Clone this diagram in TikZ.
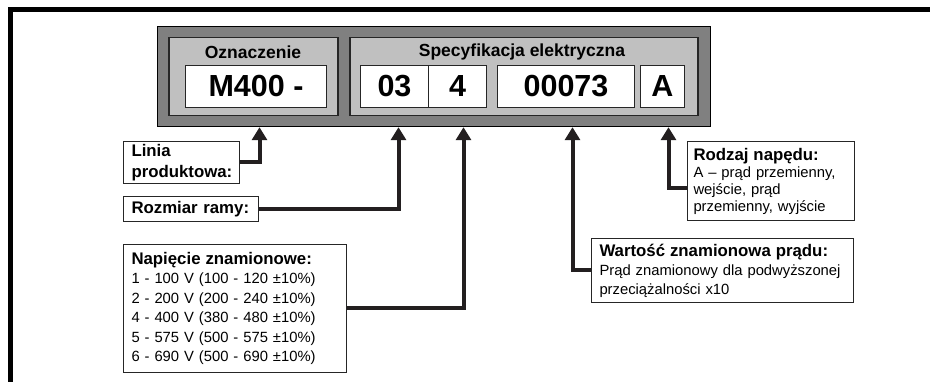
\documentclass[tikz,border=0pt]{standalone}
\usepackage{fontspec}
\setmainfont{Liberation Sans}
\usetikzlibrary{arrows.meta}
\definecolor{panelDark}{HTML}{808080}
\definecolor{panelLight}{HTML}{C0C0C0}
\definecolor{connColor}{HTML}{231F20}
\newcommand{\boxtitle}[1]{{\fontsize{16.8}{19.5}\selectfont\bfseries #1}}
\begin{document}
\begin{tikzpicture}[x=1pt,y=-1pt,
  outerpanel/.style={draw=black, line width=1.2pt, fill=panelDark, anchor=north west, inner sep=0pt},
  innerpanel/.style={draw=black!85, line width=1.5pt, fill=panelLight, anchor=north west, inner sep=0pt},
  codebox/.style={draw=black!85, line width=1pt, fill=white, anchor=north west, inner sep=0pt, minimum height=42pt, font=\fontsize{30.5}{32}\selectfont\bfseries},
  heading/.style={font=\fontsize{17.5}{19}\selectfont\bfseries, inner sep=0pt},
  labelbox/.style={draw=black!85, line width=1pt, fill=white, anchor=north west, align=left, inner xsep=8pt, inner ysep=0pt, font=\fontsize{14.8}{19.5}\selectfont},
  boldlabel/.style={labelbox, font=\fontsize{16.8}{20.5}\selectfont\bfseries},
  conn/.style={draw=connColor, line width=4pt, -{Triangle[width=15pt,length=13pt]}},
]
\useasboundingbox (0,0) rectangle (930,382);
% frame
\draw[line width=5pt, line join=miter] (10,382) -- (10,9.5) -- (930,9.5);
% code panel
\node[outerpanel, minimum width=553pt, minimum height=100pt] (outer) at (157,26) {};
\node[innerpanel, minimum width=169pt, minimum height=78pt] (desig) at (168,37) {};
\node[innerpanel, minimum width=348pt, minimum height=78pt] (spec) at (349,37) {};
\node[heading] (desigT) at (253,52) {Oznaczenie};
\node[heading] (specT) at (522,52) {Specyfikacja elektryczna};
\node[codebox, minimum width=141pt] (cM) at (185,65) {M400 -};
\node[codebox, minimum width=68pt] (c03) at (360,65) {03};
\node[codebox, minimum width=58pt] (c4) at (428,65) {4};
\node[codebox, minimum width=137pt] (c73) at (497,65) {00073};
\node[codebox, minimum width=44pt] (cA) at (640,65) {A};
% label boxes
\node[boldlabel, text width=100pt, minimum height=42pt] (linia) at (123,141) {Linia\\produktowa:};
\node[boldlabel, text width=119pt, minimum height=25pt] (rozmiar) at (123,196) {Rozmiar ramy:};
\node[labelbox, text width=207pt, minimum height=128pt] (napiecie) at (123,244)
  {\boxtitle{Napięcie znamionowe:}\\
   1 - 100 V (100 - 120 ±10\%)\\
   2 - 200 V (200 - 240 ±10\%)\\
   4 - 400 V (380 - 480 ±10\%)\\
   5 - 575 V (500 - 575 ±10\%)\\
   6 - 690 V (500 - 690 ±10\%)};
\node[labelbox, inner xsep=6pt, text width=155pt, minimum height=79pt, font=\fontsize{14.8}{17}\selectfont] (rodzaj) at (687,141)
  {\boxtitle{Rodzaj napędu:}\\
   A – prąd przemienny,\\
   wejście, prąd\\
   przemienny, wyjście};
\node[labelbox, text width=246pt, minimum height=64pt, font=\fontsize{14.8}{19}\selectfont] (wartosc) at (591,238)
  {\boxtitle{Wartość znamionowa prądu:}\\
   Prąd znamionowy dla podwyższonej\\
   przeciążalności x10};
% arrow targets on the panel bottom
\path (cM.south |- outer.south) ++(3.5,0) coordinate (t1);
\path (c03.south |- outer.south) ++(4,0) coordinate (t2);
\path (c4.south |- outer.south) ++(6,0) coordinate (t3);
\path (c73.south |- outer.south) ++(6.5,0) coordinate (t4);
\path (cA.south |- outer.south) ++(6,0) coordinate (t5);
% connectors
\draw[conn] (linia.east) -| (t1);
\draw[conn] (rozmiar.east) -| (t2);
\draw[conn] (napiecie.east) -| (t3);
\draw[conn] (wartosc.west) -| (t4);
\draw[conn] ([yshift=-7pt]rodzaj.west) -| (t5);
\end{tikzpicture}
\end{document}
